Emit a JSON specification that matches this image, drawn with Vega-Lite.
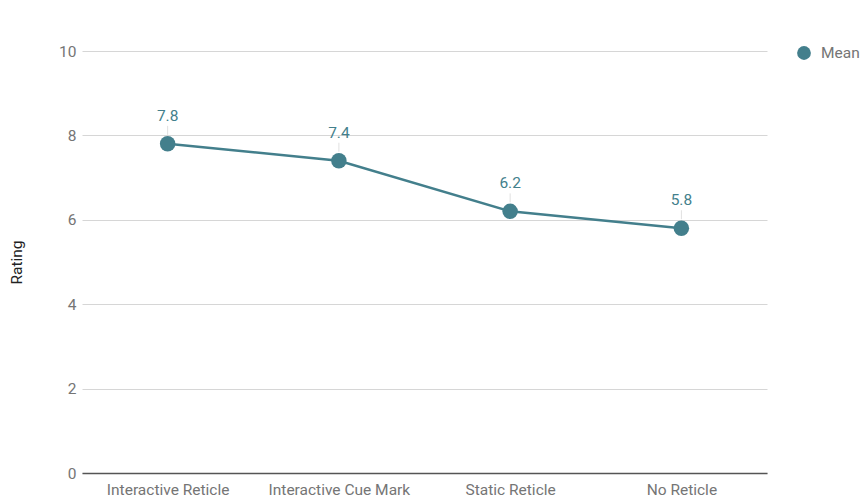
{
  "$schema": "https://vega.github.io/schema/vega-lite/v6.json",
  "autosize": {"type": "none"},
  "padding": {"left": 82, "top": 51, "right": 97, "bottom": 27},
  "width": 685,
  "height": 422,
  "background": "white",
  "config": {
    "font": "Roboto",
    "view": {"stroke": null}
  },
  "data": {
    "values": [
      {"condition": "Interactive Reticle", "mean": 7.8, "series": "Mean"},
      {"condition": "Interactive Cue Mark", "mean": 7.4, "series": "Mean"},
      {"condition": "Static Reticle", "mean": 6.2, "series": "Mean"},
      {"condition": "No Reticle", "mean": 5.8, "series": "Mean"}
    ]
  },
  "encoding": {
    "x": {
      "field": "condition",
      "type": "ordinal",
      "sort": null,
      "scale": {"type": "point", "padding": 0.5},
      "axis": {
        "title": null,
        "labelAngle": 0,
        "labelFont": "Roboto",
        "labelFontSize": 15.5,
        "labelColor": "#757575",
        "labelPadding": 9,
        "ticks": false,
        "grid": false,
        "domainColor": "#555555",
        "domainWidth": 1.5,
        "zindex": 1
      }
    },
    "y": {
      "field": "mean",
      "type": "quantitative",
      "scale": {"domain": [0, 10], "nice": false},
      "axis": {
        "title": "Rating",
        "titleFont": "Roboto",
        "titleFontSize": 15.5,
        "titleFontWeight": "normal",
        "titleColor": "#222222",
        "titlePadding": 34,
        "values": [0, 2, 4, 6, 8, 10],
        "labelFont": "Roboto",
        "labelFontSize": 15.5,
        "labelColor": "#757575",
        "labelPadding": 6,
        "ticks": false,
        "domain": false,
        "gridColor": "#d6d6d6",
        "gridWidth": 1
      }
    }
  },
  "layer": [
    {
      "mark": {"type": "rule", "color": "#e0e0e0", "strokeWidth": 1, "yOffset": -9, "y2Offset": -18},
      "encoding": {"y2": {"field": "mean"}}
    },
    {
      "mark": {"type": "line", "color": "#437f8c", "strokeWidth": 2.5}
    },
    {
      "mark": {"type": "point", "filled": true, "opacity": 1, "size": 240, "shape": "circle"},
      "encoding": {
        "color": {
          "field": "series",
          "type": "nominal",
          "scale": {"range": ["#437f8c"]},
          "legend": {
            "title": null,
            "orient": "none",
            "legendX": 714,
            "legendY": -6,
            "symbolSize": 190,
            "symbolType": "circle",
            "labelFont": "Roboto",
            "labelFontSize": 15.5,
            "labelColor": "#757575",
            "labelOffset": 9
          }
        }
      }
    },
    {
      "mark": {"type": "text", "dy": -28, "fontSize": 15.5, "font": "Roboto", "color": "#437f8c"},
      "encoding": {"text": {"field": "mean", "type": "quantitative", "format": ".1f"}}
    }
  ]
}
